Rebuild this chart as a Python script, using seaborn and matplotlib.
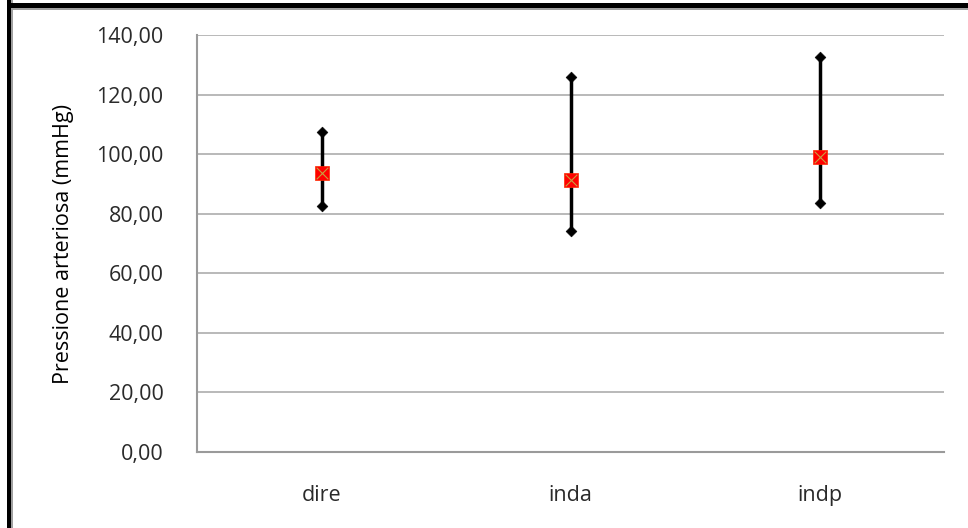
import matplotlib
matplotlib.use("Agg")
import matplotlib.pyplot as plt
import seaborn as sns
import pandas as pd
from matplotlib.patches import Rectangle
from matplotlib.ticker import FuncFormatter

categories = ["dire", "inda", "indp"]
means = [93.7, 91.3, 99.0]
lows = [82.6, 74.2, 83.6]
highs = [107.4, 125.9, 132.6]
yticks = [0, 20, 40, 60, 80, 100, 120, 140]
ylabel = "Pressione arteriosa (mmHg)"

sns.set_theme(style="white")
plt.rcParams["font.family"] = ["Open Sans", "DejaVu Sans"]

df = pd.DataFrame({"cat": categories, "mean": means, "low": lows, "high": highs})
ends = pd.DataFrame({"cat": categories * 2, "val": lows + highs})

fig = plt.figure(figsize=(9.68, 5.28), dpi=100)
ax = fig.add_axes([197 / 968, 1 - 452 / 528, (944 - 197) / 968, (452 - 35) / 528])

pos = {c: i for i, c in enumerate(categories)}
ax.vlines([pos[c] for c in df["cat"]], df["low"], df["high"], color="black", lw=2.5, zorder=3)
sns.scatterplot(data=ends, x="cat", y="val", marker="D", s=30, color="black",
                edgecolor="black", ax=ax, zorder=4, legend=False)
sns.scatterplot(data=df, x="cat", y="mean", marker="s", s=110, color="#ff0000",
                edgecolor="#ff2a00", linewidth=0.5, ax=ax, zorder=5, legend=False)
sns.scatterplot(data=df, x="cat", y="mean", marker="x", s=70, color="#c8a040",
                linewidth=0.8, ax=ax, zorder=6, legend=False)

ax.set_xlim(-0.5, 2.5)
ax.set_ylim(0, 140)
ax.set_yticks(yticks)
ax.yaxis.set_major_formatter(FuncFormatter(lambda v, p: f"{v:.2f}".replace(".", ",")))
ax.grid(axis="y", color="#a6a6a6", lw=1.1)
ax.grid(axis="x", visible=False)
for s in ["top", "right"]:
    ax.spines[s].set_visible(False)
for s in ["left", "bottom"]:
    ax.spines[s].set_color("#9a9a9a")
    ax.spines[s].set_linewidth(1.5)
ax.tick_params(axis="both", length=0, labelsize=15.5, colors="#2a2a2a")
ax.tick_params(axis="y", pad=24)
ax.tick_params(axis="x", pad=24)
ax.set_xlabel("")
ax.set_ylabel(ylabel, fontsize=15.5, color="#000000", labelpad=16)

# frame around the figure
fig.patches.append(Rectangle((7 / 968, -0.1), 4 / 968, 1.2, transform=fig.transFigure,
                             facecolor="black", edgecolor="none", zorder=10))
fig.patches.append(Rectangle((11 / 968, -0.1), 2 / 968, 1.2, transform=fig.transFigure,
                             facecolor="#a0a0a0", edgecolor="none", zorder=10))
fig.patches.append(Rectangle((7 / 968, 1 - 8 / 528), 1.0, 5 / 528, transform=fig.transFigure,
                             facecolor="black", edgecolor="none", zorder=10))
fig.patches.append(Rectangle((11 / 968, 1 - 10 / 528), 1.0, 2 / 528, transform=fig.transFigure,
                             facecolor="#a0a0a0", edgecolor="none", zorder=10))

fig.savefig("out.png", dpi=100)
